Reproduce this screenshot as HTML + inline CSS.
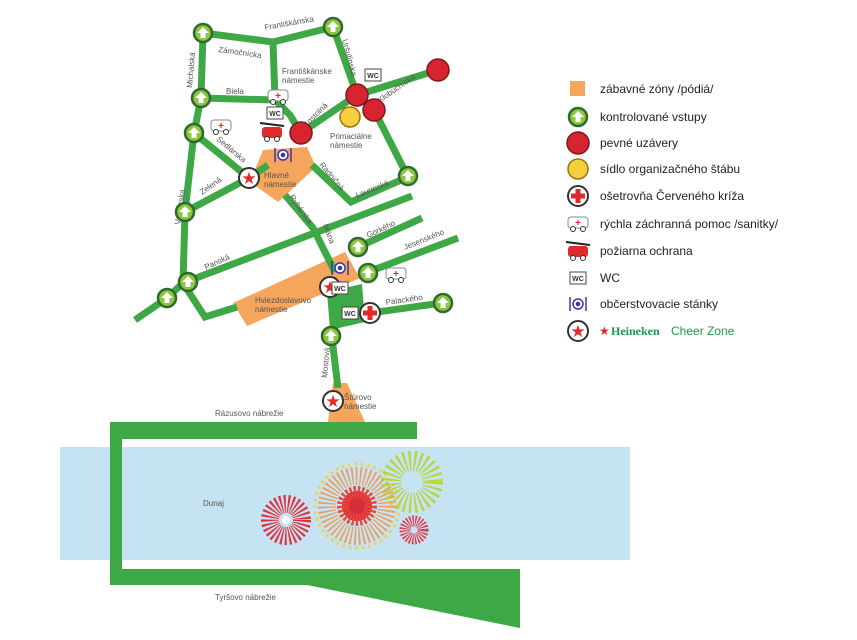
<!DOCTYPE html>
<html><head><meta charset="utf-8"><style>
html,body{margin:0;padding:0;background:#fff;}
svg{display:block;font-family:"Liberation Sans",sans-serif;}
.r{stroke:#3fa846;stroke-width:7;fill:none;stroke-linejoin:miter;}
.t{font-size:8px;fill:#555;}
.l{font-size:12px;fill:#222;}
</style></head><body>
<svg width="857" height="640" viewBox="0 0 857 640">
<defs>
<g id="en"><circle r="9" fill="#8cc63f" stroke="#2d6a2f" stroke-width="2.5"/><path d="M0,-6 L6,0 L2.5,0 L2.5,5 L-2.5,5 L-2.5,0 L-6,0Z" fill="#fff"/></g>
<g id="rd"><circle r="11" fill="#d62530" stroke="#7a1a1a" stroke-width="1.5"/></g>
<g id="st"><circle r="10" fill="#fff" stroke="#333" stroke-width="2"/><text x="0" y="6" text-anchor="middle" font-size="17" fill="#e12a2a">★</text></g>
<g id="wc"><rect x="-8" y="-6" width="16" height="12" fill="#fff" stroke="#444" stroke-width="1"/><text x="0" y="3" text-anchor="middle" font-size="7" font-weight="bold" fill="#333">WC</text></g>
<g id="fd"><circle r="5" fill="#fff" stroke="#3838a8" stroke-width="1.5"/><circle r="2.3" fill="#3838a8"/><line x1="-8" y1="-7" x2="-8" y2="7" stroke="#3838a8" stroke-width="1.5"/><line x1="8" y1="-7" x2="8" y2="7" stroke="#3838a8" stroke-width="1.5"/></g>
<g id="amb"><rect x="-10" y="-6" width="20" height="11" rx="3" fill="#fff" stroke="#888"/><text x="0" y="3" text-anchor="middle" font-size="10" font-weight="bold" fill="#e12a2a">+</text><circle cx="-5" cy="6" r="2.5" fill="#fff" stroke="#333"/><circle cx="5" cy="6" r="2.5" fill="#fff" stroke="#333"/></g>
<g id="cr"><circle r="10" fill="#fff" stroke="#333" stroke-width="2"/><path d="M-2.5,-7h5v4.5h4.5v5h-4.5v4.5h-5v-4.5h-4.5v-5h4.5z" fill="#e12a2a"/></g>
<g id="fire"><line x1="-12" y1="-10" x2="12" y2="-7" stroke="#222" stroke-width="2"/><rect x="-10" y="-6" width="20" height="11" rx="3" fill="#e12a2a"/><circle cx="-5" cy="6" r="2.5" fill="#fff" stroke="#333"/><circle cx="5" cy="6" r="2.5" fill="#fff" stroke="#333"/></g>
</defs>

<!-- river -->
<rect x="60" y="447" width="570" height="113" fill="#c6e3f3"/>
<path d="M110,422H417V439H122V569H520V628L307,585H110Z" fill="#3fa846"/>

<!-- orange zones -->
<polygon points="263,150 307,147 316,167 278,202 250,182" fill="#f5a55c"/>
<polygon points="233,303 345,252 360,278 247,326" fill="#f5a55c"/>
<polygon points="333,383 347,383 365,422 328,422" fill="#f5a55c"/>
<polygon points="327,292 362,284 365,322 330,330" fill="#3fa846"/>

<!-- roads -->
<polyline class="r" points="203,33 273,42 333,27"/>
<polyline class="r" points="273,42 275,100"/>
<polyline class="r" points="333,27 357,95"/>
<polyline class="r" points="203,33 201,98 194,133 185,212 183,283"/>
<polyline class="r" points="201,98 275,100 290,115 301,133"/>
<polyline class="r" points="301,133 357,95 438,70"/>
<polyline class="r" points="374,110 408,177"/>
<polyline class="r" points="194,133 249,178"/>
<polyline class="r" points="185,212 249,178 268,165"/>
<polyline class="r" points="285,195 313,228 335,272"/>
<polyline class="r" points="312,165 351,202 408,177"/>
<polyline class="r" points="183,283 412,196"/>
<polyline class="r" points="358,247 422,218"/>
<polyline class="r" points="368,272 458,238"/>
<polyline class="r" points="135,320 167,298 183,283"/>
<polyline class="r" points="183,283 205,317 237,307"/>
<polyline class="r" points="370,313 442,303"/>
<polyline class="r" points="331,330 338,388"/>

<!-- street labels -->
<text class="t" x="265" y="30" transform="rotate(-10 265 30)">Františkánska</text>
<text class="t" x="218" y="52" transform="rotate(8 218 52)">Zámočnícka</text>
<text class="t" x="282" y="74">Františkánske</text>
<text class="t" x="282" y="83">námestie</text>
<text class="t" x="226" y="94">Biela</text>
<text class="t" x="192" y="88" transform="rotate(-85 192 88)">Michalská</text>
<text class="t" x="342" y="40" transform="rotate(75 342 40)">Uršulínska</text>
<text class="t" x="380" y="103" transform="rotate(-35 380 103)">Klobučnícka</text>
<text class="t" x="306" y="128" transform="rotate(-45 306 128)">Kostolná</text>
<text class="t" x="330" y="139">Primaciálne</text>
<text class="t" x="330" y="148">námestie</text>
<text class="t" x="216" y="140" transform="rotate(40 216 140)">Sedlárska</text>
<text class="t" x="264" y="178">Hlavné</text>
<text class="t" x="264" y="187">námestie</text>
<text class="t" x="202" y="195" transform="rotate(-35 202 195)">Zelená</text>
<text class="t" x="319" y="165" transform="rotate(50 319 165)">Radničná</text>
<text class="t" x="357" y="198" transform="rotate(-22 357 198)">Laurinská</text>
<text class="t" x="289" y="197" transform="rotate(55 289 197)">Rybárska</text>
<text class="t" x="180" y="225" transform="rotate(-82 180 225)">Ventúrska</text>
<text class="t" x="206" y="270" transform="rotate(-25 206 270)">Panská</text>
<text class="t" x="323" y="225" transform="rotate(70 323 225)">brána</text>
<text class="t" x="368" y="238" transform="rotate(-25 368 238)">Gorkého</text>
<text class="t" x="405" y="250" transform="rotate(-22 405 250)">Jesenského</text>
<text class="t" x="255" y="303">Hviezdoslavovo</text>
<text class="t" x="255" y="312">námestie</text>
<text class="t" x="386" y="305" transform="rotate(-8 386 305)">Palackého</text>
<text class="t" x="327" y="378" transform="rotate(-85 327 378)">Mostová</text>
<text class="t" x="344" y="400">Štúrovo</text>
<text class="t" x="344" y="409">námestie</text>
<text class="t" x="215" y="416">Rázusovo nábrežie</text>
<text class="t" x="215" y="600">Tyršovo nábrežie</text>
<text class="t" x="203" y="506">Dunaj</text>

<!-- icons on map -->
<use href="#en" x="203" y="33"/><use href="#en" x="333" y="27"/><use href="#en" x="201" y="98"/>
<use href="#en" x="194" y="133"/><use href="#en" x="185" y="212"/><use href="#en" x="408" y="176"/>
<use href="#en" x="188" y="282"/><use href="#en" x="167" y="298"/><use href="#en" x="358" y="247"/>
<use href="#en" x="368" y="273"/><use href="#en" x="443" y="303"/><use href="#en" x="331" y="336"/>
<use href="#rd" x="438" y="70"/><use href="#rd" x="357" y="95"/><use href="#rd" x="374" y="110"/><use href="#rd" x="301" y="133"/>
<circle cx="350" cy="117" r="10" fill="#f4d03f" stroke="#a07010" stroke-width="1.5"/>
<use href="#st" x="249" y="178"/><use href="#st" x="330" y="287"/><use href="#st" x="333" y="401"/>
<use href="#cr" x="370" y="313"/>
<use href="#wc" x="373" y="75"/><use href="#wc" x="275" y="113"/><use href="#wc" x="340" y="288"/><use href="#wc" x="350" y="313"/>
<use href="#fd" x="283" y="155"/><use href="#fd" x="340" y="268"/>
<use href="#amb" x="278" y="96"/><use href="#amb" x="221" y="126"/><use href="#amb" x="396" y="274"/>
<use href="#fire" x="272" y="133"/>

<!-- fireworks -->
<circle cx="286" cy="520" r="16" fill="none" stroke="#e03040" stroke-width="18" stroke-dasharray="1.6 1.9"/>
<circle cx="286" cy="520" r="4" fill="#fff"/>
<circle cx="357" cy="506" r="42" fill="none" stroke="#f7d03a" stroke-width="3" stroke-dasharray="2.5 4"/>
<circle cx="357" cy="506" r="30" fill="none" stroke="#f29a50" stroke-width="18" stroke-dasharray="1.5 2.5"/>
<circle cx="357" cy="506" r="15" fill="#d82c3a"/>
<circle cx="357" cy="506" r="14" fill="none" stroke="#e84a3a" stroke-width="12" stroke-dasharray="2 1.5"/>
<circle cx="412" cy="482" r="21" fill="none" stroke="#b8d435" stroke-width="20" stroke-dasharray="1.8 3"/>
<circle cx="414" cy="530" r="9" fill="none" stroke="#e03a48" stroke-width="11" stroke-dasharray="1.2 1.2"/>

<!-- legend -->
<rect x="570" y="81" width="15" height="15" fill="#f5a55c"/>
<text class="l" x="600" y="93">zábavné zóny /pódiá/</text>
<use href="#en" x="578" y="117"/><text class="l" x="600" y="121">kontrolované vstupy</text>
<use href="#rd" x="578" y="143"/><text class="l" x="600" y="147">pevné uzávery</text>
<circle cx="578" cy="169" r="10" fill="#f4d03f" stroke="#a07010" stroke-width="1.5"/><text class="l" x="600" y="173">sídlo organizačného štábu</text>
<use href="#cr" x="578" y="196"/><text class="l" x="600" y="200">ošetrovňa Červeného kríža</text>
<use href="#amb" x="578" y="223"/><text class="l" x="600" y="228">rýchla záchranná pomoc /sanitky/</text>
<use href="#fire" x="578" y="252"/><text class="l" x="600" y="255">požiarna ochrana</text>
<use href="#wc" x="578" y="278"/><text class="l" x="600" y="282">WC</text>
<use href="#fd" x="578" y="304"/><text class="l" x="600" y="308">občerstvovacie stánky</text>
<use href="#st" x="578" y="331"/>
<text x="599" y="335" font-size="12" fill="#e12a2a">★</text>
<text x="611" y="335" font-size="12" font-weight="bold" font-family="Liberation Serif,serif" fill="#1a9a4a">Heineken</text>
<text x="671" y="335" font-size="12" fill="#1a9a4a">Cheer Zone</text>
</svg>
</body></html>
